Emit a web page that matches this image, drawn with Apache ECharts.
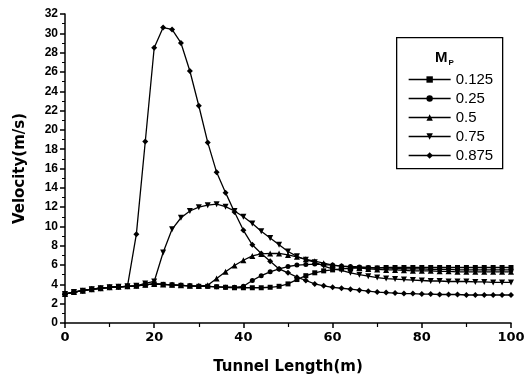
<!DOCTYPE html>
<html><head><meta charset="utf-8">
<script src="https://cdn.jsdelivr.net/npm/echarts@6/dist/echarts.min.js"></script>
<style>html,body{margin:0;padding:0;background:#fff}#c{width:529px;height:376px}</style>
</head><body><div id="c"></div>
<script>
const xs = [0,2,4,6,8,10,12,14,16,18,20,22,24,26,28,30,32,34,36,38,40,42,44,46,48,50,52,54,56,58,60,62,64,66,68,70,72,74,76,78,80,82,84,86,88,90,92,94,96,98,100];
const seriesNames = ['0.125','0.25','0.5','0.75','0.875'];
const v0125 = [3.0,3.2,3.35,3.5,3.6,3.7,3.75,3.8,3.85,3.95,4.05,4.0,3.95,3.9,3.85,3.8,3.8,3.75,3.7,3.65,3.65,3.65,3.65,3.7,3.8,4.05,4.5,4.9,5.2,5.4,5.5,5.6,5.65,5.7,5.7,5.7,5.75,5.75,5.75,5.75,5.75,5.75,5.75,5.75,5.75,5.75,5.75,5.75,5.75,5.75,5.75];
const v025 = [3.0,3.2,3.35,3.5,3.6,3.7,3.75,3.8,3.85,3.95,4.05,4.0,3.95,3.9,3.85,3.8,3.8,3.75,3.7,3.7,3.8,4.4,4.9,5.3,5.6,5.85,6.0,6.05,6.1,6.05,6.0,5.9,5.85,5.8,5.75,5.7,5.7,5.65,5.6,5.6,5.6,5.55,5.55,5.55,5.5,5.5,5.5,5.5,5.5,5.5,5.5];
const v05 = [3.0,3.2,3.35,3.5,3.6,3.7,3.75,3.8,3.85,3.95,4.05,4.0,3.95,3.9,3.85,3.85,3.9,4.6,5.3,5.95,6.5,6.95,7.15,7.2,7.2,7.05,6.85,6.6,6.4,6.2,6.0,5.9,5.8,5.7,5.6,5.55,5.5,5.5,5.45,5.4,5.4,5.4,5.35,5.35,5.3,5.3,5.3,5.3,5.3,5.3,5.3];
const v075 = [3.0,3.2,3.35,3.5,3.6,3.7,3.75,3.8,3.85,4.1,4.3,7.3,9.7,10.9,11.6,12.0,12.2,12.3,12.05,11.6,11.0,10.3,9.5,8.8,8.1,7.4,6.9,6.55,6.3,5.9,5.6,5.45,5.2,5.0,4.85,4.7,4.6,4.55,4.5,4.45,4.4,4.35,4.35,4.3,4.3,4.3,4.25,4.25,4.2,4.2,4.2];
const v0875 = [3.0,3.2,3.35,3.5,3.6,3.7,3.75,3.8,9.2,18.8,28.5,30.6,30.4,29.0,26.1,22.5,18.7,15.6,13.5,11.5,9.6,8.1,7.2,6.4,5.6,5.2,4.75,4.4,4.05,3.85,3.7,3.6,3.5,3.4,3.3,3.2,3.15,3.1,3.05,3.05,3.0,3.0,2.95,2.95,2.95,2.9,2.9,2.9,2.9,2.9,2.9];
const xTicks = [0,20,40,60,80,100];
const yTicks = [0,2,4,6,8,10,12,14,16,18,20,22,24,26,28,30,32];

const allValues = [v0125, v025, v05, v075, v0875];
const symbols = ['rect','circle','triangle','triangle','diamond'];
const rotates = [0,0,0,180,0];
const sizes = [5,5,6,6,6];

const chart = echarts.init(document.getElementById('c'), null, {renderer:'canvas'});
const series = seriesNames.map((n,k)=>({
  name:n, type:'line',
  data: xs.map((x,i)=>[x, allValues[k][i]]),
  symbol: symbols[k], symbolRotate: rotates[k], symbolSize: sizes[k], showSymbol:true,
  lineStyle:{color:'#000', width:1.3},
  itemStyle:{color:'#000', borderWidth:0},
  animation:false, z: 2
}));

chart.setOption({
  animation:false,
  backgroundColor:'#fff',
  grid:{left:65, right:18, top:14, bottom:53, containLabel:false, outerBoundsMode:'none'},
  xAxis:{type:'value', min:0, max:100, interval:20,
    name:'Tunnel Length(m)', nameLocation:'middle', nameGap:37,
    nameTextStyle:{fontFamily:'DejaVu Sans', fontWeight:'bold', fontSize:15, color:'#000'},
    axisLine:{show:true, lineStyle:{color:'#000', width:1.5}},
    axisTick:{show:true, inside:false, length:5, lineStyle:{color:'#000', width:1.5}},
    minorTick:{show:true, splitNumber:2, length:4, lineStyle:{color:'#000', width:1.2}},
    axisLabel:{fontFamily:'DejaVu Sans', fontWeight:'bold', fontSize:13, color:'#000', margin:8,
      formatter:v=>xTicks.includes(v)?String(v):''},
    splitLine:{show:false}},
  yAxis:{type:'value', min:0, max:32, interval:2,
    name:'Velocity(m/s)', nameLocation:'middle', nameGap:37, nameRotate:90,
    nameTextStyle:{fontFamily:'DejaVu Sans', fontWeight:'bold', fontSize:15, color:'#000'},
    axisLine:{show:true, lineStyle:{color:'#000', width:1.5}},
    axisTick:{show:true, inside:false, length:5, lineStyle:{color:'#000', width:1.5}},
    minorTick:{show:true, splitNumber:2, length:3, lineStyle:{color:'#000', width:1}},
    axisLabel:{fontFamily:'Liberation Sans', fontWeight:'bold', fontSize:12, color:'#000', margin:7,
      formatter:v=>yTicks.includes(v)?String(v):''},
    splitLine:{show:false}},
  legend:{show:true, orient:'vertical', left:403, top:67, itemWidth:42, itemHeight:8, itemGap:4,
    data:seriesNames,
    textStyle:{fontFamily:'Liberation Sans', fontSize:15, color:'#000'},
    itemStyle:{color:'#000'}, lineStyle:{color:'#000', width:1.3}},
  graphic:[
    {type:'rect', left:396, top:37, shape:{width:106, height:131}, style:{fill:'#fff', stroke:'#000', lineWidth:1.3}, z:-1},
    {type:'text', left:435, top:50, style:{text:'{m|M}{p|P}', rich:{m:{fontFamily:'Liberation Sans', fontWeight:'bold', fontSize:15, fill:'#000'}, p:{fontFamily:'Liberation Sans', fontWeight:'bold', fontSize:8, fill:'#000', padding:[10,0,0,1]}}}}
  ],
  series
});
</script></body></html>
